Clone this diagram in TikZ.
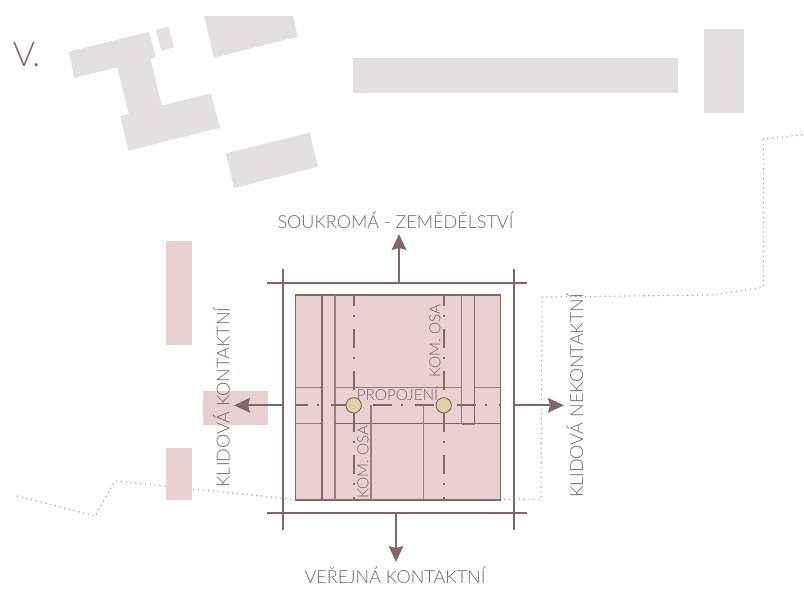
\documentclass[tikz,border=0pt]{standalone}
\usepackage{fontspec}
\setmainfont{Lato Light}
\usetikzlibrary{arrows.meta}
\definecolor{brn}{HTML}{856668}
\definecolor{txtc}{HTML}{7D6063}
\definecolor{pnk}{HTML}{E9D1D1}
\definecolor{gry}{HTML}{E2E0E1}
\definecolor{tan}{HTML}{E2CFA6}
\tikzset{
  bldg/.style={fill=gry,draw=none},
  pinkblock/.style={fill=pnk,draw=none},
  framel/.style={draw=brn,line width=1.3pt},
  innerl/.style={draw=brn,line width=1pt},
  thinl/.style={draw=brn!85,line width=.8pt},
  axisl/.style={draw=brn,line width=1.3pt,dash pattern=on 14.25pt off 6.75pt on 1.5pt off 9pt},
  bound/.style={draw=gray!75,line width=.85pt,dash pattern=on .85pt off 2.8pt},
  arrowl/.style={draw=brn,line width=1.3pt,-{Stealth[length=12pt,width=11pt,inset=1.5pt]}},
  lbl/.style={text=txtc,font=\fontsize{13.5pt}{15pt}\selectfont,inner sep=0pt},
  sml/.style={text=txtc,font=\fontsize{11.5pt}{13pt}\selectfont,inner sep=0pt},
  junction/.style={circle,fill=tan,draw=brn,line width=.7pt,minimum size=11.5pt,inner sep=0pt}
}
\begin{document}
\begin{tikzpicture}[x=.75pt,y=-.75pt]
\useasboundingbox (0,0) rectangle (804,589);
% grey buildings
\fill[bldg] (68.7,51.7)--(149,31.7)--(156,57.3)--(150.7,59)--(161.7,105.7)--(210.7,93.3)--(220,127.7)--(128.3,150.7)--(120.3,116)--(128.7,114)--(117.3,67.3)--(74.3,78)--cycle;
\fill[bldg] (156,30)--(168.3,26.3)--(174,47.3)--(161.3,50.7)--cycle;
\fill[bldg] (204,16)--(293.3,16)--(297.7,36.7)--(214,57.7)--cycle;
\fill[bldg] (225.7,153.3)--(309.7,132.7)--(318,166.7)--(234,188.3)--cycle;
\fill[bldg] (353,58) rectangle (678,93);
\fill[bldg] (704,29) rectangle (744,113);
% boundary
\draw[bound] (17,496)--(95,516)--(115,481)--(296,499.5)--(541,499.5)--(542,297)--(713,295)--(763.5,287)--(763.5,139)--(804,134.5);
% pink blocks
\fill[pinkblock] (166,241) rectangle (192,345);
\fill[pinkblock] (203,391) rectangle (268,425);
\fill[pinkblock] (166,448) rectangle (192,500);
\fill[pinkblock] (295.7,295) rectangle (500.7,500);
% inner lines
\draw[innerl] (295.7,295) rectangle (500.7,500);
\draw[innerl] (322,295)--(322,500);
\draw[thinl] (335,295)--(335,500);
\draw[thinl] (461.7,295)--(461.7,424);
\draw[innerl] (474.7,295)--(474.7,424);
\draw[thinl] (461.7,424)--(474.7,424);
\draw[thinl] (295.7,387.3)--(322,387.3);
\draw[thinl] (335,387.3)--(461.7,387.3);
\draw[thinl] (474.7,387.3)--(500.7,387.3);
\draw[thinl] (295.7,423.7)--(322,423.7);
\draw[innerl] (335,423.7)--(500.7,423.7);
\draw[thinl] (371,405)--(371,500);
\draw[thinl] (423.3,405)--(423.3,500);
% axes
\draw[axisl,dash phase=5.55pt] (353.7,294)--(353.7,500);
\draw[axisl,dash phase=5.55pt] (443.7,294)--(443.7,500);
\draw[axisl,dash phase=5.25pt] (295.7,405.3)--(500.7,405.3);
% frame
\draw[framel] (267,282.7)--(527,282.7);
\draw[framel] (267,512.7)--(527,512.7);
\draw[framel] (283.3,268.5)--(283.3,530);
\draw[framel] (514,268.5)--(514,530);
% junctions
\node[junction] (j1) at (353.7,405.3) {};
\node[junction] (j2) at (443.7,405.3) {};
% arrows
\coordinate (at) at (399,282.7); \coordinate (atip) at (399,234);
\coordinate (ab) at (396,512.7); \coordinate (abip) at (396,562);
\coordinate (al) at (283.3,405.3); \coordinate (alip) at (234,405.3);
\coordinate (ar) at (514,405.3); \coordinate (arip) at (564,405.3);
\draw[arrowl] (at)--(atip);
\draw[arrowl] (ab)--(abip);
\draw[arrowl] (al)--(alip);
\draw[arrowl] (ar)--(arip);
% labels
\node[text=brn,font=\fontsize{25.5pt}{27pt}\selectfont,inner sep=0pt,anchor=west] (tv) at (12.5,54.5) {V.};
\node[lbl] (tn) at (395.5,220.5) {SOUKROMÁ - ZEMĚDĚLSTVÍ};
\node[lbl] (ts) at (395,575.5) {VEŘEJNÁ KONTAKTNÍ};
\node[lbl,rotate=90] (tw) at (221.5,397.5) {KLIDOVÁ KONTAKTNÍ};
\node[lbl,rotate=90] (te) at (575,396) {KLIDOVÁ NEKONTAKTNÍ};
\node[sml] (tp) at (397.5,394) {PROPOJENÍ};
\node[sml,rotate=90] (tk1) at (363,462) {KOM. OSA};
\node[sml,rotate=90] (tk2) at (435,341) {KOM. OSA};
\end{tikzpicture}
\end{document}
